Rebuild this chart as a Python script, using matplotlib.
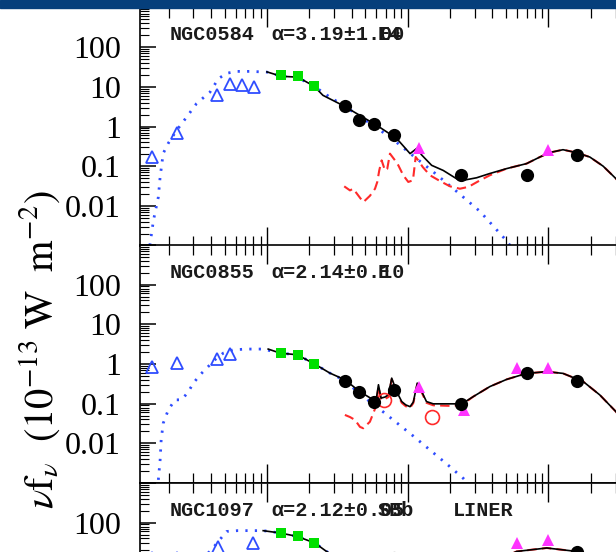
import numpy as np
import matplotlib
matplotlib.use('Agg')
import matplotlib.pyplot as plt
from matplotlib.patches import Rectangle
from matplotlib.ticker import LogLocator, NullFormatter, FixedLocator, FixedFormatter

plt.rcParams['mathtext.fontset'] = 'stix'
plt.rcParams['font.family'] = ['Liberation Serif', 'DejaVu Serif']

# ---------------- data (wavelength in micron, nu f_nu in 1e-13 W m^-2) -------------
galaxies = ["NGC0584", "NGC0855", "NGC1097"]
alpha_labels = ["α=3.19±1.00", "α=2.14±0.10", "α=2.12±0.05"]
type_labels = ["E4", "E", "SBb"]
nuclear_labels = ["", "", "LINER"]
ytick_labels = ['', '0.01', '0.1', '1', '10', '100', '']

uvopt_wl_1 = [0.153, 0.231, 0.44, 0.55, 0.66, 0.81]
uvopt_f_1 = [0.17, 0.69, 6.2, 11.6, 11.0, 10.0]
uvopt_wl_2 = [0.153, 0.231, 0.44, 0.55]
uvopt_f_2 = [0.83, 1.05, 1.35, 1.8]
uvopt_wl_3 = [0.153, 0.231, 0.45, 0.80]
uvopt_f_3 = [13.0, 13.0, 25.0, 31.0]

nir_wl = [1.25, 1.65, 2.17]
nir_f_1 = [19.5, 18.6, 10.2]
nir_f_2 = [1.88, 1.7, 1.0]
nir_f_3 = [55.0, 45.0, 31.0]

spitzer_wl = [3.6, 4.5, 5.8, 8.0, 24.0, 70.0, 160.0]
spitzer_f_1 = [3.3, 1.5, 1.18, 0.6, 0.061, 0.061, 0.186]
spitzer_f_2 = [0.38, 0.20, 0.113, 0.22, 0.10, 0.59, 0.38]
spitzer_f_3 = [7.0, 5.0, 6.0, 13.0, 4.0, 12.8, 18.6]

iras_wl_1 = [12.0, 100.0]
iras_f_1 = [0.29, 0.25]
iras_wl_2 = [12.0, 25.0, 60.0, 100.0]
iras_f_2 = [0.26, 0.069, 0.79, 0.79]
iras_wl_3 = [12.0, 25.0, 60.0, 100.0]
iras_f_3 = [3.0, 6.0, 31.0, 37.0]

iso_wl_2 = [6.75, 15.0]
iso_f_2 = [0.125, 0.046]

# stellar model (blue dotted)
star_wl_1 = [0.147, 0.156, 0.169, 0.174, 0.183, 0.199, 0.228, 0.269, 0.316, 0.394, 0.451, 0.517,
             0.61, 0.757, 1.0, 1.26, 1.66, 2.16, 2.8, 3.64, 4.73, 6.15, 8.0, 10.4, 15.2, 22.3,
             32.7, 50.6, 56.0]
star_f_1 = [0.001, 0.0043, 0.0166, 0.053, 0.21, 0.38, 0.80, 1.74, 3.8, 7.4, 16.0, 22.0,
            24.5, 24.5, 23.5, 18.5, 17.0, 10.4, 5.5, 3.1, 1.65, 0.88, 0.45, 0.21, 0.072, 0.023,
            0.0072, 0.0013, 0.0008]
star_wl_2 = [0.169, 0.174, 0.177, 0.183, 0.199, 0.222, 0.248, 0.276, 0.30, 0.334, 0.373, 0.427,
             0.489, 0.576, 0.717, 0.94, 1.24, 1.64, 2.17, 2.8, 3.49, 4.58, 5.7, 6.7, 8.36, 10.9,
             14.4, 19.0, 24.9, 27.8]
star_f_2 = [0.0012, 0.0038, 0.0122, 0.032, 0.070, 0.125, 0.125, 0.20, 0.33, 0.53, 0.79, 1.28,
            1.88, 2.28, 2.38, 2.38, 1.88, 1.71, 1.01, 0.59, 0.40, 0.18, 0.095, 0.062, 0.033,
            0.0155, 0.0068, 0.0030, 0.0013, 0.00084]
star_wl_3 = [0.15, 0.2, 0.3, 0.4, 0.451, 0.517, 0.62, 0.75, 0.94, 1.24, 1.64, 2.19, 2.65, 3.6,
             5.0, 8.0, 15.0, 30.0, 60.0, 80.0]
star_f_3 = [0.01, 1.0, 8.0, 20.0, 33.7, 60.0, 63.0, 63.0, 63.0, 55.0, 45.0, 30.7, 18.8, 9.0,
            4.0, 1.1, 0.18, 0.024, 0.003, 0.0012]

# dust model (red dashed)
dust_wl_1 = [3.54, 3.89, 4.1, 4.58, 4.84, 5.4, 5.86, 6.08, 6.28, 6.53, 6.9, 7.16, 7.48, 8.13,
             8.58, 9.3, 10.1, 10.9, 11.4, 11.9, 12.8, 14.4, 17.0, 20.0, 23.5, 27.0, 32.7, 38.4,
             50.6, 70.0, 87.0, 102.0, 127.0, 158.0, 197.0, 245.0, 303.0, 380.0]
dust_f_1 = [0.031, 0.0245, 0.027, 0.016, 0.0124, 0.018, 0.027, 0.040, 0.078, 0.14, 0.078, 0.086,
            0.207, 0.14, 0.105, 0.059, 0.040, 0.044, 0.17, 0.14, 0.095, 0.059, 0.042, 0.031,
            0.027, 0.030, 0.044, 0.059, 0.087, 0.116, 0.17, 0.22, 0.26, 0.22, 0.17, 0.10,
            0.048, 0.018]
dust_wl_2 = [3.58, 3.89, 4.22, 4.58, 4.83, 5.39, 5.7, 5.95, 6.2, 6.47, 6.9, 7.3, 7.7, 8.36, 9.07,
             9.7, 10.4, 10.97, 11.7, 12.6, 13.6, 15.2, 20.0, 24.3, 29.2, 38.4, 50.6, 70.0, 97.5,
             127.0, 177.0, 232.0, 302.0, 380.0]
dust_f_2 = [0.052, 0.046, 0.039, 0.026, 0.024, 0.035, 0.058, 0.085, 0.27, 0.125, 0.132, 0.147,
            0.41, 0.19, 0.105, 0.086, 0.078, 0.104, 0.31, 0.19, 0.105, 0.091, 0.088, 0.093, 0.15,
            0.27, 0.41, 0.58, 0.64, 0.58, 0.36, 0.166, 0.063, 0.0216]
dust_wl_3 = [3.6, 5.0, 6.2, 7.0, 7.7, 8.6, 10.0, 11.3, 12.5, 15.0, 20.0, 24.0, 30.0, 44.0, 59.5,
             97.4, 159.0, 232.0, 300.0, 380.0]
dust_f_3 = [0.8, 1.0, 5.0, 3.0, 10.0, 5.0, 3.0, 11.0, 5.0, 4.0, 4.0, 5.0, 8.5, 11.6, 18.8,
            23.0, 18.8, 12.8, 6.0, 2.5]

# total model (black solid)
tot_wl_1 = [1.0, 1.26, 1.66, 2.16, 2.5, 3.46, 4.58, 6.03, 8.35, 10.4, 11.6, 12.6, 14.8, 17.9,
            22.3, 24.8, 30.9, 38.2, 50.6, 70.0, 87.0, 102.0, 127.0, 158.0, 197.0, 245.0, 303.0,
            380.0]
tot_f_1 = [23.8, 18.5, 17.5, 10.4, 6.1, 3.4, 1.9, 1.07, 0.50, 0.207, 0.28, 0.19, 0.105, 0.078,
           0.048, 0.044, 0.051, 0.065, 0.087, 0.116, 0.17, 0.22, 0.26, 0.22, 0.17, 0.10, 0.048,
           0.018]
tot_wl_2 = [1.02, 1.24, 1.64, 2.17, 2.8, 3.58, 4.58, 5.7, 6.0, 6.2, 6.47, 6.9, 7.3, 7.7, 8.36,
            9.07, 9.7, 10.4, 10.97, 11.7, 12.6, 13.6, 15.2, 20.0, 24.3, 29.2, 38.4, 50.6, 70.0,
            97.5, 127.0, 177.0, 232.0, 302.0, 380.0]
tot_f_2 = [2.38, 1.88, 1.71, 1.01, 0.59, 0.40, 0.20, 0.125, 0.14, 0.30, 0.138, 0.147, 0.167,
           0.44, 0.20, 0.113, 0.093, 0.084, 0.11, 0.33, 0.20, 0.113, 0.099, 0.099, 0.099, 0.15,
           0.27, 0.41, 0.58, 0.64, 0.58, 0.36, 0.166, 0.063, 0.0216]
tot_wl_3 = [0.94, 1.24, 1.64, 2.19, 2.65, 3.6, 4.5, 5.8, 6.2, 7.0, 7.7, 8.6, 10.0, 11.3, 12.5,
            15.0, 20.0, 24.0, 30.0, 44.0, 59.5, 97.4, 159.0, 232.0, 300.0, 380.0]
tot_f_3 = [62.8, 55.0, 45.0, 30.7, 18.8, 10.0, 7.0, 7.5, 10.0, 8.0, 14.0, 9.0, 6.0, 12.0, 7.0,
           5.0, 5.0, 6.0, 9.0, 11.6, 18.8, 23.0, 18.8, 12.8, 6.0, 2.5]

panels = [
    dict(uw=uvopt_wl_1, uf=uvopt_f_1, nf=nir_f_1, sf=spitzer_f_1, iw=iras_wl_1, iff=iras_f_1,
         ow=[], of=[], stw=star_wl_1, stf=star_f_1, dw=dust_wl_1, df=dust_f_1,
         tw=tot_wl_1, tf=tot_f_1),
    dict(uw=uvopt_wl_2, uf=uvopt_f_2, nf=nir_f_2, sf=spitzer_f_2, iw=iras_wl_2, iff=iras_f_2,
         ow=iso_wl_2, of=iso_f_2, stw=star_wl_2, stf=star_f_2, dw=dust_wl_2, df=dust_f_2,
         tw=tot_wl_2, tf=tot_f_2),
    dict(uw=uvopt_wl_3, uf=uvopt_f_3, nf=nir_f_3, sf=spitzer_f_3, iw=iras_wl_3, iff=iras_f_3,
         ow=[], of=[], stw=star_wl_3, stf=star_f_3, dw=dust_wl_3, df=dust_f_3,
         tw=tot_wl_3, tf=tot_f_3),
]

# ---------------- layout ----------------
W, H, DPI = 616, 552, 100
fig = plt.figure(figsize=(W / DPI, H / DPI), dpi=DPI)

left_px = 139.5
decade_px = 140.7
xmin_log, xmax_log = -0.906, 3.0
right_px = left_px + (xmax_log - xmin_log) * decade_px
panel_tops = [7.5, 245.0, 483.0]
panel_h = 238.0

BLUE = '#2f4dff'
RED = '#ff2a2a'
GREEN = '#00e000'
MAGENTA = '#ff33ff'

for i, (p, top) in enumerate(zip(panels, panel_tops)):
    ax = fig.add_axes([left_px / W, 1 - (top + panel_h) / H, (right_px - left_px) / W, panel_h / H])
    ax.set_xscale('log')
    ax.set_yscale('log')
    ax.set_xlim(10 ** xmin_log, 10 ** xmax_log)
    ax.set_ylim(1e-3, 1e3)

    ax.plot(p['stw'], p['stf'], color=BLUE, ls=(0, (0.8, 2.6)), lw=2.0, zorder=2)
    ax.plot(p['dw'], p['df'], color=RED, ls=(0, (4.5, 2.5)), lw=1.5, zorder=2)
    ax.plot(p['tw'], p['tf'], color='black', lw=1.2, zorder=3)

    ax.plot(p['uw'], p['uf'], ls='none', marker='^', mfc='none', mec=BLUE, ms=8, mew=1.3, zorder=4)
    ax.plot(nir_wl, p['nf'], ls='none', marker='s', color=GREEN, ms=6.6, mew=0, zorder=4)
    ax.plot(spitzer_wl, p['sf'], ls='none', marker='o', color='black', ms=9.5, mew=0, zorder=5)
    ax.plot(p['iw'], p['iff'], ls='none', marker='^', color=MAGENTA, ms=8, mew=0, zorder=4)
    if p['ow']:
        ax.plot(p['ow'], p['of'], ls='none', marker='o', mfc='none', mec=RED, ms=10, mew=1.2, zorder=4)

    for s in ax.spines.values():
        s.set_linewidth(1.2)

    labels = list(ytick_labels)
    if i == 2:
        # lower labels of the last panel fall below the visible area
        labels = ['' if lab != '100' else lab for lab in labels]

    ax.xaxis.set_major_locator(LogLocator(base=10, numticks=20))
    ax.xaxis.set_minor_locator(LogLocator(base=10, subs=np.arange(2, 10), numticks=100))
    ax.xaxis.set_minor_formatter(NullFormatter())
    ax.yaxis.set_major_locator(FixedLocator([1e-3, 1e-2, 0.1, 1, 10, 100, 1000]))
    ax.yaxis.set_major_formatter(FixedFormatter(labels))
    ax.yaxis.set_minor_locator(LogLocator(base=10, subs=np.arange(2, 10), numticks=100))
    ax.yaxis.set_minor_formatter(NullFormatter())

    ax.tick_params(axis='x', which='major', direction='in', length=14, width=1.0,
                   top=True, bottom=True, labelbottom=False)
    ax.tick_params(axis='x', which='minor', direction='in', length=7, width=0.9,
                   top=True, bottom=True)
    ax.tick_params(axis='y', which='major', direction='in', length=11.5, width=1.1,
                   left=True, right=True, labelsize=23, pad=13.5)
    ax.tick_params(axis='y', which='minor', direction='in', length=6.5, width=0.8,
                   left=True, right=True)

    base_y = 1 - (top + 32.5) / H
    mono = dict(family=['Liberation Mono', 'DejaVu Sans Mono'], fontsize=14.5, color='#1a1a1a',
                fontweight='bold', va='baseline', ha='left')
    fig.text(170 / W, base_y, galaxies[i], **mono)
    fig.text(271 / W, base_y, alpha_labels[i], **mono)
    fig.text(378 / W, base_y, type_labels[i], **mono)
    if nuclear_labels[i]:
        fig.text(453 / W, base_y, nuclear_labels[i], **mono)

fig.text(40 / W, 1 - 350 / H, r'$\nu \mathrm{f}_\nu\ \ (10^{-13}\ \mathrm{W}\ \ \mathrm{m}^{-2})$',
         rotation=90, ha='center', va='center', fontsize=29)

fig.add_artist(Rectangle((0, 1 - 8 / H), 1, 8 / H, transform=fig.transFigure,
                         color='#063f7b', zorder=20))

fig.savefig('out.png', dpi=DPI)
